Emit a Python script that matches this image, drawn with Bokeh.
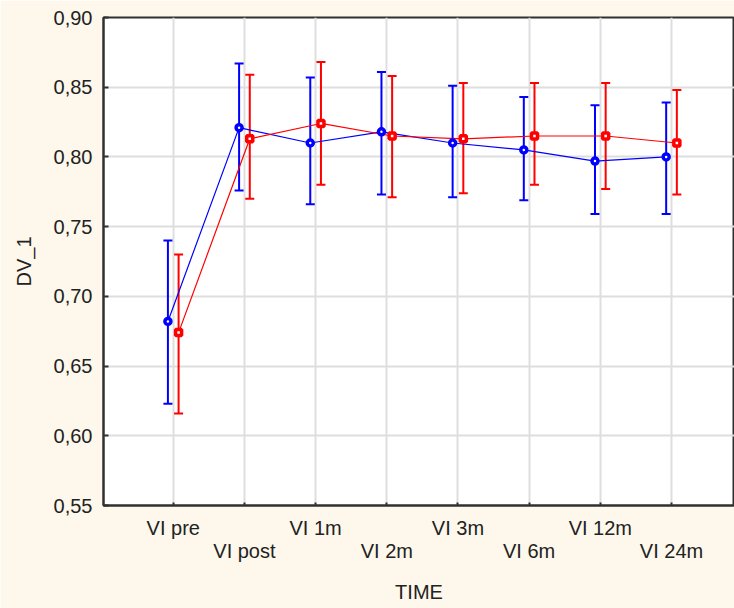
from bokeh.plotting import figure
from bokeh.models import Range1d, FixedTicker, LinearAxis, Whisker, TeeHead, ColumnDataSource
from bokeh.embed import file_html
from bokeh.resources import INLINE

# ---- data ----
times = ["VI pre", "VI post", "VI 1m", "VI 2m", "VI 3m", "VI 6m", "VI 12m", "VI 24m"]

blue_mean = [0.682, 0.821, 0.810, 0.818, 0.810, 0.805, 0.797, 0.800]
blue_upper = [0.740, 0.867, 0.857, 0.861, 0.851, 0.843, 0.837, 0.839]
blue_lower = [0.623, 0.776, 0.766, 0.773, 0.771, 0.769, 0.759, 0.759]

red_mean = [0.674, 0.813, 0.824, 0.815, 0.813, 0.815, 0.815, 0.810]
red_upper = [0.730, 0.859, 0.868, 0.858, 0.853, 0.853, 0.853, 0.848]
red_lower = [0.616, 0.770, 0.780, 0.771, 0.774, 0.780, 0.777, 0.773]

y_ticks = [0.55, 0.60, 0.65, 0.70, 0.75, 0.80, 0.85, 0.90]
y_tick_labels = ["0,55", "0,60", "0,65", "0,70", "0,75", "0,80", "0,85", "0,90"]

# ---- styling ----
FONT = "Liberation Sans"
FS = "20px"
TXT = "#222222"
BG = "#FDF8EB"
BLUE = "#0000FF"
RED = "#FF0000"
OFF = 0.075

positions = list(range(len(times)))
blue_x = [i - OFF for i in positions]
red_x = [i + OFF for i in positions]

p = figure(width=734, height=608,
           x_range=Range1d(-0.98, 7.885), y_range=Range1d(0.55, 0.90),
           output_backend="svg", toolbar_location=None,
           min_border_left=103, min_border_right=0, min_border_top=17, min_border_bottom=103,
           background_fill_color="white", border_fill_color=BG)

p.outline_line_color = "#303030"
p.outline_line_width = 2

# grids
p.xgrid.ticker = FixedTicker(ticks=positions)
p.ygrid.ticker = FixedTicker(ticks=y_ticks)
for g in (p.xgrid[0], p.ygrid[0]):
    g.grid_line_color = "#DEDEDE"
    g.grid_line_width = 2

# y axis
ya = p.yaxis[0]
ya.ticker = FixedTicker(ticks=y_ticks)
ya.major_label_overrides = {t: l for t, l in zip(y_ticks, y_tick_labels)}
ya.axis_label = "DV_1"
ya.axis_label_text_font = FONT
ya.axis_label_text_font_size = FS
ya.axis_label_text_font_style = "normal"
ya.axis_label_text_color = TXT
ya.axis_label_standoff = 16
ya.major_label_text_font = FONT
ya.major_label_text_font_size = FS
ya.major_label_text_color = TXT
ya.major_label_standoff = 11
ya.major_tick_in = 5
ya.major_tick_out = 0
ya.major_tick_line_color = "#303030"
ya.major_tick_line_width = 2
ya.minor_tick_line_color = None
ya.axis_line_color = "#303030"
ya.axis_line_width = 2

# x axis, first row (even labels)
xa = p.xaxis[0]
xa.ticker = FixedTicker(ticks=positions)
xa.major_label_overrides = {i: (times[i] if i % 2 == 0 else "") for i in positions}
xa.major_label_text_font = FONT
xa.major_label_text_font_size = FS
xa.major_label_text_color = TXT
xa.major_label_standoff = 11
xa.major_tick_in = 3
xa.major_tick_out = 0
xa.major_tick_line_color = "#303030"
xa.major_tick_line_width = 2
xa.minor_tick_line_color = None
xa.axis_line_color = "#303030"
xa.axis_line_width = 2

# x axis, second row (odd labels)
xa2 = LinearAxis(ticker=FixedTicker(ticks=positions),
                 major_label_overrides={i: (times[i] if i % 2 == 1 else "") for i in positions},
                 axis_label="TIME")
xa2.major_label_text_font = FONT
xa2.major_label_text_font_size = FS
xa2.major_label_text_color = TXT
xa2.major_label_standoff = -8
xa2.major_tick_line_color = None
xa2.minor_tick_line_color = None
xa2.axis_line_color = None
xa2.axis_label_text_font = FONT
xa2.axis_label_text_font_size = FS
xa2.axis_label_text_font_style = "normal"
xa2.axis_label_text_color = TXT
xa2.axis_label_standoff = 16
p.add_layout(xa2, "below")

# series
bsrc = ColumnDataSource(dict(x=blue_x, y=blue_mean, upper=blue_upper, lower=blue_lower))
rsrc = ColumnDataSource(dict(x=red_x, y=red_mean, upper=red_upper, lower=red_lower))

for src, col in ((bsrc, BLUE), (rsrc, RED)):
    w = Whisker(base="x", upper="upper", lower="lower", source=src,
                line_color=col, line_width=2, level="underlay",
                upper_head=TeeHead(size=9, line_color=col, line_width=2),
                lower_head=TeeHead(size=9, line_color=col, line_width=2))
    p.add_layout(w)

p.line("x", "y", source=bsrc, line_color=BLUE, line_width=1.2)
p.line("x", "y", source=rsrc, line_color=RED, line_width=1.2)
p.scatter("x", "y", source=bsrc, marker="circle", size=6, line_width=3.5,
          line_color=BLUE, fill_color="white")
p.scatter("x", "y", source=rsrc, marker="square", size=6, line_width=3.5,
          line_color=RED, fill_color="white")

open("out.html", "w").write(file_html(p, INLINE))
